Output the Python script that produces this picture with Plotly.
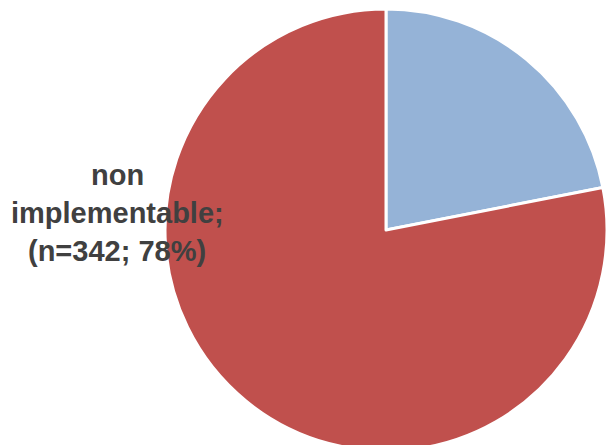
import plotly.graph_objects as go

categories = ["implementable", "non implementable"]
counts = [96, 342]
colors = ["#95B3D7", "#C0504D"]
label_lines = ["non", "implementable;", "(n=342; 78%)"]

W, H = 607, 460
ML, MR, MT, MB = 165, 0, 9, 9

fig = go.Figure(go.Pie(
    labels=categories,
    values=counts,
    sort=False,
    direction="clockwise",
    rotation=0,
    marker=dict(colors=colors, line=dict(color="white", width=3)),
    textinfo="none",
    hoverinfo="label+value+percent",
    showlegend=False,
    domain=dict(x=[0, 1], y=[0, 1]),
))

# label line centres in page pixels
label_x = 117
line_y = [175, 213, 251]
for txt, yy in zip(label_lines, line_y):
    fig.add_annotation(
        text="<b>%s</b>" % txt,
        x=(label_x - ML) / (W - ML - MR),
        y=1 - (yy - MT) / (H - MT - MB),
        xref="paper", yref="paper",
        xanchor="center", yanchor="middle",
        showarrow=False,
        font=dict(family="Liberation Sans, Arial, sans-serif", size=29, color="#404040"),
    )

fig.update_layout(
    width=W, height=H,
    margin=dict(l=ML, r=MR, t=MT, b=MB),
    paper_bgcolor="white",
    plot_bgcolor="white",
)

fig.write_html("out.html", config={"displayModeBar": False},
               post_script="document.body.style.margin='0';document.body.style.overflow='hidden';")
